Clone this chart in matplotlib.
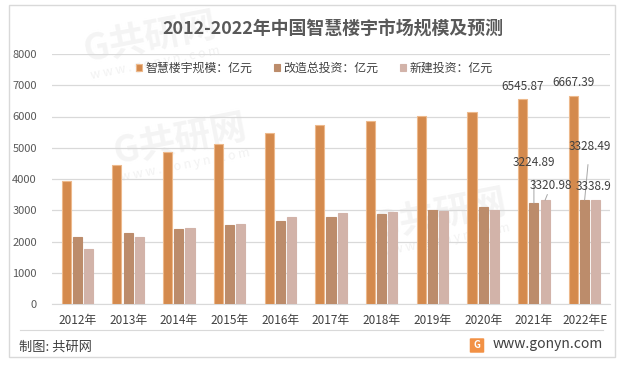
import matplotlib
matplotlib.use("Agg")
import matplotlib.pyplot as plt
from matplotlib.patches import Rectangle, FancyBboxPatch
import numpy as np

plt.rcParams['font.family'] = ['Noto Sans CJK SC', 'DejaVu Sans']

# ----------------------------
# Data
# ----------------------------
years = ["2012年", "2013年", "2014年", "2015年", "2016年", "2017年",
         "2018年", "2019年", "2020年", "2021年", "2022年E"]
market_size = [3940, 4440, 4870, 5120, 5475, 5735, 5860, 6030, 6150, 6545.87, 6667.39]
renovation = [2150, 2280, 2405, 2535, 2665, 2790, 2890, 3015, 3110, 3224.89, 3328.49]
new_build = [1770, 2150, 2440, 2570, 2790, 2920, 2950, 2985, 3015, 3320.98, 3338.9]
series_names = ["智慧楼宇规模：亿元", "改造总投资：亿元", "新建投资：亿元"]

colors = ["#D48A4D", "#BC8C6B", "#D2B3A9"]
edge = ["#EDB98C", "#BC8C6B", "#D2B3A9"]

W, H = 622, 366
fig = plt.figure(figsize=(W / 100, H / 100), dpi=100)

# faint watermarks, kept behind the axes
for wx, wy in [(150, 38), (180, 140), (440, 215)]:
    fig.text(wx / W, 1 - wy / H, "G共研网", ha="center", va="center", fontsize=26,
             fontweight="bold", color="#F4F4F4", rotation=11, zorder=-2)
    fig.text((wx + 5) / W, 1 - (wy + 25) / H, "w w w . g o n y n . c o m", ha="center",
             va="center", fontsize=9, color="#F2F2F2", rotation=11, zorder=-2)

ax = fig.add_axes([52 / W, 1 - 304 / H, 558 / W, 250 / H])

x = np.arange(len(years))
w = 0.18
offsets = [-0.22, 0.0, 0.22]
for vals, off, c, ec, name in zip([market_size, renovation, new_build], offsets, colors, edge, series_names):
    ax.bar(x + off, vals, width=w, color=c, edgecolor=ec, linewidth=0.8, label=name, zorder=3)

ax.set_xlim(-0.5, len(years) - 0.5)
ax.set_ylim(0, 8000)
ax.set_yticks(range(0, 8001, 1000))
ax.yaxis.grid(True, color="#D9D9D9", linewidth=0.9, zorder=0)
ax.set_axisbelow(True)
for s in ["top", "right", "left"]:
    ax.spines[s].set_visible(False)
ax.spines["bottom"].set_color("#D9D9D9")
ax.tick_params(length=0)
ax.tick_params(axis="y", labelsize=8, colors="#595959", pad=11)
ax.set_xticks(x)
ax.set_xticklabels(years, fontsize=8.5, color="#404040")
ax.tick_params(axis="x", pad=7)
ax.set_facecolor("none")

# data labels for the last two years
def label(xpos, val, dx, dy, text, line=False):
    ax.annotate(text, xy=(xpos, val), xytext=(dx, dy), textcoords="offset pixels",
                ha="center", va="center", fontsize=8.5, color="#404040",
                arrowprops=dict(arrowstyle="-", color="#A6A6A6", lw=0.7,
                                shrinkA=6, shrinkB=0) if line else None, zorder=5)

label(9 - 0.22, market_size[9], 0, 13, "6545.87")
label(10 - 0.22, market_size[10], 0, 13, "6667.39")
label(9, renovation[9], 0, 41, "3224.89", line=True)
label(9 + 0.22, new_build[9], 6, 15, "3320.98", line=True)
label(10, renovation[10], 5, 53, "3328.49", line=True)
label(10 + 0.22, new_build[10], -2, 13, "3338.9")

# legend
fig.legend(loc="center", bbox_to_anchor=(314 / W, 1 - 68 / H), ncol=3, frameon=False,
           fontsize=8.6, handlelength=0.55, handleheight=0.55, handletextpad=0.25,
           columnspacing=1.8, labelcolor="#404040")

# title
fig.text(333 / W, 1 - 30 / H, "2012-2022年中国智慧楼宇市场规模及预测", ha="center", va="center",
         fontsize=12.9, fontweight="bold", color="#595959")

# footer
fig.add_artist(plt.Line2D([20 / W, 603 / W], [1 - 330 / H] * 2, color="#D9D9D9", lw=0.8))
fig.text(19 / W, 1 - 347 / H, "制图: 共研网", ha="left", va="center", fontsize=9.5, color="#404040")
fig.text(603 / W, 1 - 344 / H, "www.gonyn.com", ha="right", va="center", fontsize=10, color="#404040")
fig.add_artist(FancyBboxPatch((471 / W, 1 - 352 / H), 12 / W, 13 / H,
                              boxstyle="round,pad=0.002", transform=fig.transFigure,
                              facecolor="#F29145", edgecolor="none"))
fig.text(477 / W, 1 - 345.5 / H, "G", ha="center", va="center", fontsize=7,
         fontweight="bold", color="white")

# outer border
fig.add_artist(Rectangle((9 / W, 1 - 357 / H), 606 / W, 352 / H, transform=fig.transFigure,
                         fill=False, edgecolor="#D9D9D9", lw=1))

fig.savefig("out.png", dpi=100)
